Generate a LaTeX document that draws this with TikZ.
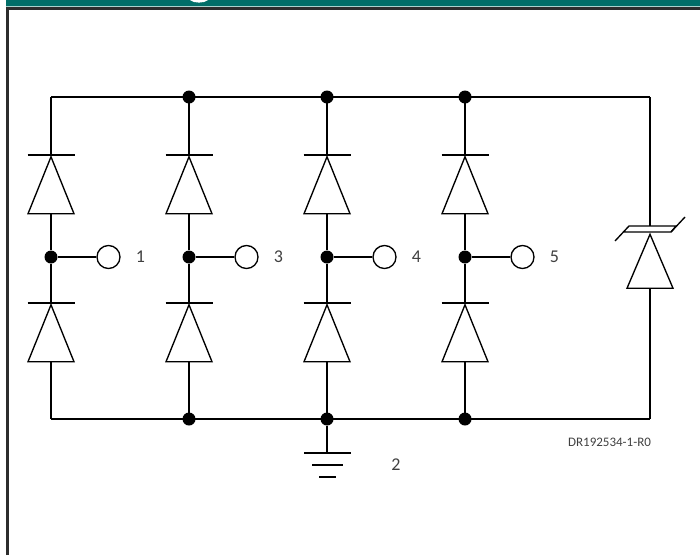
\documentclass[tikz,border=0pt]{standalone}
\usepackage{fontspec}
\setmainfont{Carlito}
\usetikzlibrary{shapes.geometric}
\usetikzlibrary{positioning}
\definecolor{headerteal}{RGB}{0,110,104}
\definecolor{headerline}{RGB}{170,210,205}
\definecolor{framegray}{RGB}{45,45,45}
\definecolor{textgray}{RGB}{64,64,64}
\tikzset{
    wire/.style={draw=black, line width=1.35pt},
    junction/.style={circle, fill=black, inner sep=0pt, minimum size=13pt},
    terminal/.style={circle, draw=black, line width=1.35pt, fill=white, inner sep=0pt, minimum size=23pt},
    diode/.style={isosceles triangle, isosceles triangle stretches, shape border rotate=90, draw=black, line width=1.35pt, inner sep=0pt, minimum width=46pt, minimum height=57pt, anchor=apex},
    pinlabel/.style={font=\fontsize{18}{18}\selectfont, text=textgray, inner sep=0pt}
}
\begin{document}
\begin{tikzpicture}[x=1pt, y=-1pt]
    \useasboundingbox (0,0) rectangle (700,555);
    % slide frame
    \fill[headerteal] (6,0) rectangle (700,6);
    \fill[white] (190,0) .. controls (194,3.5) and (204,3.5) .. (208,0) -- cycle;
    \draw[headerline, line width=0.7pt] (6,6.4) -- (700,6.4);
    \draw[framegray, line width=2.6pt] (7.5,555) -- (7.5,8.6) -- (700,8.6);
    % rails
    \coordinate (topright) at (650,97);
    \coordinate (botright) at (650,419);
    \draw[wire] (51,97) -- (topright);
    \draw[wire] (51,419) -- (botright);
    % diode columns
    \foreach \col/\xpos/\pin in {a/51/1, b/189/3, c/327/4, d/465/5} {
        \node[diode] (up\col) at (\xpos,155) {};
        \node[diode] (lo\col) at (\xpos,303) {};
        \draw[wire] (\xpos-23.5,155) -- (\xpos+23.5,155);
        \draw[wire] (\xpos-23.5,303) -- (\xpos+23.5,303);
        \node[junction] (mid\col) at (\xpos,257) {};
        \node[terminal, right=57.5pt of mid\col.center, anchor=center] (term\col) {};
        \node[pinlabel, right=15pt of term\col] (pin\col) {\pin};
        \draw[wire] (\xpos,97) -- (up\col.apex);
        \draw[wire] (up\col.south) -- (mid\col);
        \draw[wire] (mid\col) -- (lo\col.apex);
        \draw[wire] (lo\col.south) -- (\xpos,419);
        \draw[wire] (mid\col) -- (term\col);
    }
    \node[junction] (topb) at (189,97) {};
    \node[junction] (topc) at (327,97) {};
    \node[junction] (topd) at (465,97) {};
    \node[junction] (botb) at (189,419) {};
    \node[junction] (botc) at (327,419) {};
    \node[junction] (botd) at (465,419) {};
    % clamp diode
    \node[diode, minimum height=54pt] (clamp) at (650,232.5) {};
    \draw[wire, line join=miter] (615,241) -- (629,226) -- (676,226) -- (671,232) -- (624,232);
    \draw[wire] (671,232) -- (685,217);
    \draw[wire] (topright) -- (650,226);
    \draw[wire] (clamp.south) -- (botright);
    % ground
    \coordinate (gnd) at (327,453);
    \draw[wire] (botc) -- (gnd);
    \draw[wire] (304,453) -- (351,453);
    \draw[wire] (312,465) -- (343,465);
    \draw[wire] (319,477) -- (336,477);
    \node[pinlabel] (pin2) at (396,465) {2};
    \node[font=\fontsize{13}{13}\selectfont, text=textgray, inner sep=0pt] (drawnum) at (609.5,442) {DR192534-1-R0};
\end{tikzpicture}
\end{document}
